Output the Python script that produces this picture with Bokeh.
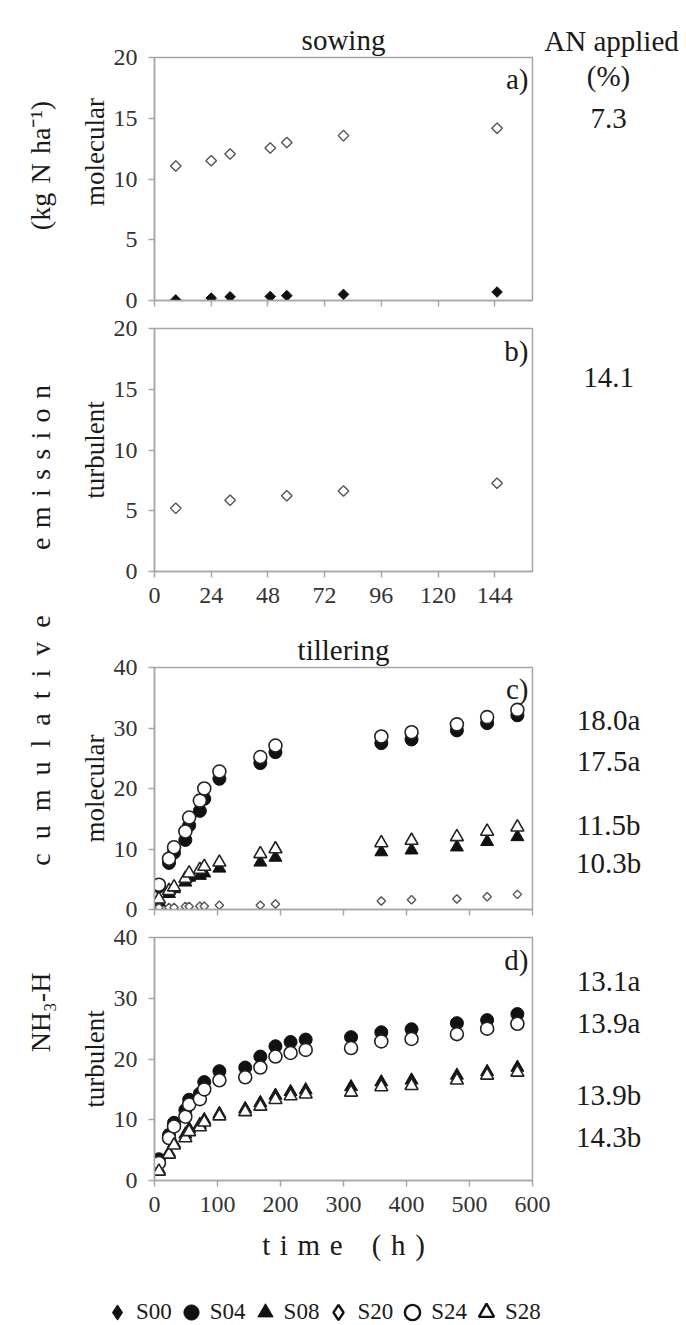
import numpy as np
from bokeh.plotting import figure
from bokeh.models import Label, Legend, LegendItem, Range1d, FixedTicker
from bokeh.layouts import row, column
from bokeh.embed import file_html
from bokeh.resources import INLINE

# ---------------- data ----------------
series_names = ["S00", "S04", "S08", "S20", "S24", "S28"]

# a) sowing, molecular
t_a = [9, 24, 32, 49, 56, 80, 145]
a_S00 = [0.05, 0.2, 0.3, 0.33, 0.4, 0.5, 0.7]
a_S20 = [11.07, 11.5, 12.06, 12.55, 13.0, 13.57, 14.18]

# b) sowing, turbulent
t_b = [9, 32, 56, 80, 145]
b_S20 = [5.2, 5.86, 6.24, 6.63, 7.26]

# c) tillering, molecular
t_c = [7, 23, 31, 49, 55, 72, 79, 103, 168, 192, 360, 408, 480, 528, 576]
c_S04 = [3.8, 7.7, 9.4, 11.5, 13.9, 16.3, 18.3, 21.6, 24.2, 26.0, 27.5, 28.1, 29.6, 30.8, 32.1]
c_S08 = [1.2, 2.6, 3.4, 4.5, 5.3, 5.6, 6.0, 6.8, 7.8, 8.6, 9.5, 9.8, 10.3, 11.2, 12.0]
c_S20 = [0.33, 0.33, 0.35, 0.5, 0.5, 0.55, 0.55, 0.7, 0.7, 0.9, 1.4, 1.6, 1.75, 2.1, 2.5]
c_S24 = [4.1, 8.4, 10.3, 12.9, 15.2, 18.0, 20.0, 22.8, 25.2, 27.1, 28.6, 29.3, 30.6, 31.8, 33.0]
c_S28 = [1.7, 3.1, 3.7, 5.1, 6.0, 6.6, 7.1, 7.8, 9.2, 10.0, 11.0, 11.4, 12.0, 12.9, 13.6]

# d) tillering, turbulent
t_d = [7, 23, 31, 49, 55, 72, 79, 103, 144, 168, 192, 216, 240, 312, 360, 408, 480, 528, 576]
d_S04 = [3.5, 7.5, 9.5, 11.6, 13.3, 14.3, 16.2, 18.0, 18.6, 20.4, 22.1, 22.8, 23.2, 23.6, 24.4, 24.9, 25.9, 26.4, 27.4]
d_S08 = [1.8, 4.6, 6.1, 7.6, 8.5, 9.2, 10.0, 11.0, 11.8, 12.8, 14.0, 14.6, 14.9, 15.4, 16.2, 16.5, 17.3, 17.9, 18.6]
d_S24 = [2.9, 7.0, 8.9, 10.5, 12.5, 13.4, 15.0, 16.5, 17.0, 18.6, 20.4, 21.0, 21.5, 21.8, 22.9, 23.3, 24.1, 25.0, 25.8]
d_S28 = [1.5, 4.3, 5.8, 7.0, 8.0, 8.8, 9.6, 10.6, 11.3, 12.2, 13.3, 13.9, 14.2, 14.5, 15.4, 15.6, 16.5, 17.3, 17.8]

# AN applied (%)
an_a = "7.3"
an_b = "14.1"
an_c = ["18.0a", "17.5a", "11.5b", "10.3b"]
an_d = ["13.1a", "13.9a", "13.9b", "14.3b"]

sow_xticks = [0, 24, 48, 72, 96, 120, 144]
till_xticks = [0, 100, 200, 300, 400, 500, 600]
sow_yticks = [0, 5, 10, 15, 20]
till_yticks = [0, 10, 20, 30, 40]

# ---------------- styles ----------------
FONT = "Liberation Serif"
GRAY = "#a6a6a6"
TXT = "#1a1a1a"
STY = {
    "S00": dict(marker="square", angle=np.pi / 4, fill_color="#111111", line_color="#111111", line_width=1),
    "S04": dict(marker="circle", fill_color="#111111", line_color="#111111", line_width=1),
    "S08": dict(marker="triangle", fill_color="#111111", line_color="#111111", line_width=1),
    "S20": dict(marker="square", angle=np.pi / 4, fill_color="white", line_color="#555555", line_width=1.4),
    "S24": dict(marker="circle", fill_color="white", line_color="#222222", line_width=1.6),
    "S28": dict(marker="triangle", fill_color="white", line_color="#222222", line_width=1.6),
}
SIZE = {"S00": 7.5, "S04": 13, "S08": 13, "S20": 7.5, "S24": 13, "S28": 13}
# legend keys (drawn larger and bolder, as in the figure key)
LEG_STY = {
    "S00": dict(marker="diamond", fill_color="#111111", line_color="#111111", line_width=1),
    "S04": dict(marker="circle", fill_color="#111111", line_color="#111111", line_width=1),
    "S08": dict(marker="triangle", fill_color="#111111", line_color="#111111", line_width=1),
    "S20": dict(marker="diamond", fill_color="white", line_color="#111111", line_width=2.4),
    "S24": dict(marker="circle", fill_color="white", line_color="#111111", line_width=2.4),
    "S28": dict(marker="triangle", fill_color="white", line_color="#111111", line_width=2.4),
}

LEFT_W = 76
PANEL_L = 154 - LEFT_W
EM = "\u2003"
sp = "\u2004"


def make_panel(width, height, top, bottom, right, x_end, xticks, y_end, yticks, show_xlabels,
               ylabel, title=None):
    p = figure(width=width, height=height, x_range=Range1d(0, x_end), y_range=Range1d(0, y_end),
               output_backend="svg", toolbar_location=None,
               min_border_left=PANEL_L, min_border_right=right,
               min_border_top=top, min_border_bottom=bottom)
    p.xgrid.visible = False
    p.ygrid.visible = False
    p.outline_line_color = GRAY
    p.outline_line_width = 1.5
    p.xaxis.ticker = FixedTicker(ticks=xticks)
    p.yaxis.ticker = FixedTicker(ticks=yticks)
    for ax in (p.xaxis[0], p.yaxis[0]):
        ax.axis_line_color = GRAY
        ax.axis_line_width = 1.5
        ax.major_tick_line_color = GRAY
        ax.major_tick_line_width = 1.5
        ax.major_tick_out = 6
        ax.major_tick_in = 0
        ax.minor_tick_line_color = None
        ax.major_label_text_font = FONT
        ax.major_label_text_font_size = "24px"
        ax.major_label_text_color = "#333333"
    p.yaxis.major_label_standoff = 11
    p.yaxis.axis_label = ylabel
    p.yaxis.axis_label_text_font = FONT
    p.yaxis.axis_label_text_font_size = "27px"
    p.yaxis.axis_label_text_font_style = "normal"
    p.yaxis.axis_label_text_color = TXT
    p.yaxis.axis_label_standoff = 1
    if show_xlabels:
        p.xaxis.major_label_standoff = 10
    else:
        p.xaxis.major_label_text_font_size = "6px"
        p.xaxis.major_label_text_color = None
        p.xaxis.major_label_standoff = 0
    if title:
        p.title.text = title
        p.title.align = "center"
        p.title.text_font = FONT
        p.title.text_font_size = "29px"
        p.title.text_font_style = "normal"
        p.title.text_color = TXT
        p.title.standoff = 3
    return p


def text_fig(width, height, top=0, bottom=0):
    f = figure(width=width, height=height, x_range=Range1d(0, 1), y_range=Range1d(0, 1),
               x_axis_type=None, y_axis_type=None, output_backend="svg", toolbar_location=None,
               min_border_left=0, min_border_right=0, min_border_top=top, min_border_bottom=bottom)
    f.outline_line_color = None
    f.xgrid.visible = False
    f.ygrid.visible = False
    return f


def lab(p, text, x, y, size="29px", align="center", angle=0.0):
    p.add_layout(Label(x=x, y=y, x_units="screen", y_units="screen", text=text,
                       text_font=FONT, text_font_size=size, text_align=align,
                       text_baseline="middle", angle=angle, text_color=TXT))


def draw(p, name, xs, ys, size=None):
    s = STY[name]
    return p.scatter(x=xs, y=ys, size=size if size is not None else SIZE[name], **s)


W = PANEL_L + 378 + 4
# ---------------- panel a ----------------
pA = make_panel(W, 314, 57, 14, 4, 160, sow_xticks, 20, sow_yticks, False,
                EM * 2 + "molecular", title="sowing")
draw(pA, "S00", t_a, a_S00)
draw(pA, "S20", t_a, a_S20)
lab(pA, "a)", 374, 222, align="right")

# ---------------- panel b ----------------
pB = make_panel(W, 306, 14, 49, 4, 160, sow_xticks, 20, sow_yticks, True, "turbulent")
draw(pB, "S20", t_b, b_S20)
lab(pB, "b)", 374, 221, align="right")

# ---------------- panel c ----------------
pC = make_panel(W, 303, 47, 14, 4, 600, till_xticks, 40, till_yticks, False,
                "molecular", title="tillering")
draw(pC, "S04", t_c, c_S04)
draw(pC, "S08", t_c, c_S08)
draw(pC, "S20", t_c, c_S20, size=6)
draw(pC, "S24", t_c, c_S24)
draw(pC, "S28", t_c, c_S28)
lab(pC, "c)", 374, 221, align="right")

# ---------------- panel d ----------------
pD = make_panel(W + 18, 347, 14, 90, 22, 600, till_xticks, 40, till_yticks, True, "turbulent")
draw(pD, "S04", t_d, d_S04)
draw(pD, "S08", t_d, d_S08)
draw(pD, "S24", t_d, d_S24)
draw(pD, "S28", t_d, d_S28)
lab(pD, "d)", 374, 221, align="right")
pD.xaxis.axis_label = sp.join("time") + sp * 3 + sp.join("(h)")
pD.xaxis.axis_label_text_font = FONT
pD.xaxis.axis_label_text_font_size = "29px"
pD.xaxis.axis_label_text_font_style = "normal"
pD.xaxis.axis_label_text_color = TXT
pD.xaxis.axis_label_standoff = 14

# ---------------- right column: AN applied ----------------
rA = text_fig(150, 314, 57, 14)
rA.title.text = "AN applied"
rA.title.align = "center"
rA.title.vertical_align = "middle"
rA.title.text_font = FONT
rA.title.text_font_size = "29px"
rA.title.text_font_style = "normal"
rA.title.text_color = TXT
rA.title.standoff = 0
lab(rA, "(%)", 72, 225)
lab(rA, an_a, 72, 182)
rB = text_fig(150, 306, 14, 49)
lab(rB, an_b, 72, 194)
rC = text_fig(150, 303, 47, 14)
for txt, yy in zip(an_c, [190, 149, 85, 47]):
    lab(rC, txt, 72, yy)
rD = text_fig(686 - LEFT_W - W - 18, 347, 14, 90)
for txt, yy in zip(an_d, [200, 158, 86, 44]):
    lab(rD, txt, 54, yy)

# ---------------- legend ----------------
pLeg = figure(width=686 - LEFT_W, height=55, x_range=Range1d(-10, -9), y_range=Range1d(-10, -9),
              x_axis_type=None, y_axis_type=None, output_backend="svg", toolbar_location=None,
              min_border_left=0, min_border_right=0, min_border_top=0, min_border_bottom=0)
pLeg.outline_line_color = None
pLeg.xgrid.visible = False
pLeg.ygrid.visible = False
leg_src = {"S00": (t_a, a_S00), "S04": (t_c, c_S04), "S08": (t_c, c_S08),
           "S20": (t_c, c_S20), "S24": (t_c, c_S24), "S28": (t_c, c_S28)}
leg_r = {n: pLeg.scatter(x=leg_src[n][0], y=leg_src[n][1], size=SIZE[n], **LEG_STY[n])
         for n in series_names}
items = [LegendItem(label=n, renderers=[leg_r[n]]) for n in series_names]
leg = Legend(items=items, orientation="horizontal", location=(98 - LEFT_W, -9),
             glyph_width=38, glyph_height=44, label_standoff=0, spacing=0,
             padding=0, margin=0, border_line_color=None, background_fill_alpha=0,
             label_text_font=FONT, label_text_font_size="23px", label_text_color=TXT)
pLeg.add_layout(leg)

# ---------------- left big label ----------------
pL = text_fig(LEFT_W, 1325)
H = 1325
lab(pL, "(kg" + sp + "N" + sp + "ha\u207b\u00b9)", 40, H - 165, size="28px", angle=np.pi / 2)
lab(pL, sp.join("emission"), 40, H - 467, size="28px", angle=np.pi / 2)
lab(pL, "\u2002".join("cumulative"), 40, H - 740, size="28px", angle=np.pi / 2)
lab(pL, "NH\u2083-H", 40, H - 1012, size="28px", angle=np.pi / 2)

layout = row(pL, column(row(pA, rA), row(pB, rB), row(pC, rC), row(pD, rD), pLeg))
open("out.html", "w").write(file_html(layout, INLINE))
